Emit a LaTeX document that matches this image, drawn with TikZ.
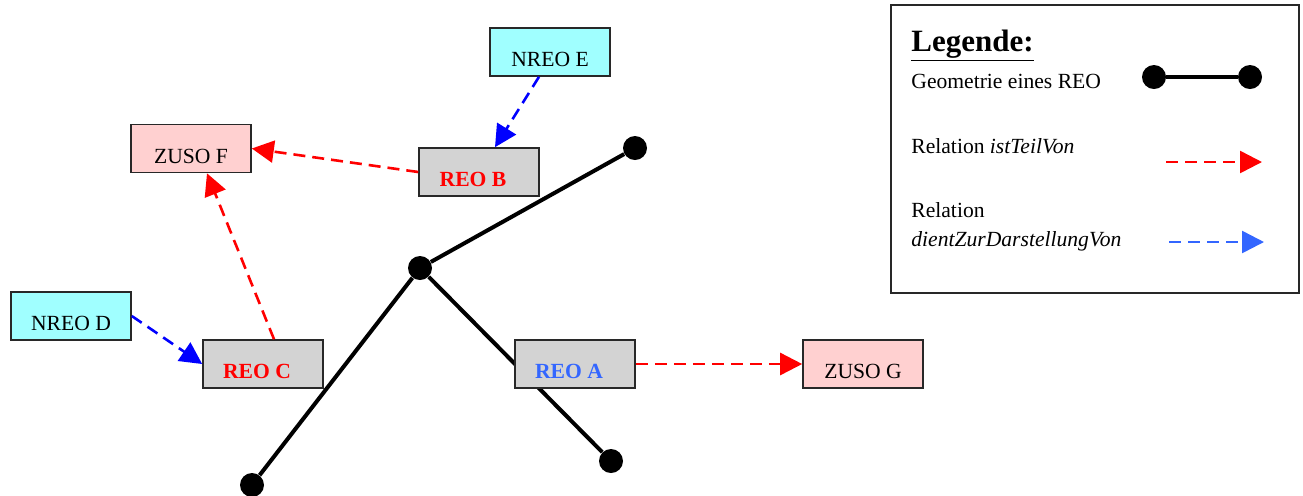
\documentclass[tikz,border=0pt]{standalone}
\usepackage{fontspec}
\setmainfont{Liberation Serif}
\usetikzlibrary{arrows.meta,calc}
\definecolor{cyanfill}{RGB}{160,255,255}
\definecolor{pinkfill}{RGB}{255,208,208}
\definecolor{greyfill}{RGB}{211,211,211}
\definecolor{lblue}{RGB}{51,102,255}
\definecolor{edgecol}{RGB}{40,40,40}
\begin{document}
\begin{tikzpicture}[x=0.5pt,y=-0.5pt,
  box/.style={draw=edgecol, line width=0.8pt, minimum width=60pt, minimum height=24pt,
    inner sep=0pt, text height=14.5pt, text depth=0pt, font=\fontsize{10.8}{13}\selectfont},
  cyanbox/.style={box, fill=cyanfill},
  pinkbox/.style={box, fill=pinkfill},
  reo/.style={box, fill=greyfill, font=\fontsize{10.8}{13}\selectfont\bfseries},
  dot/.style={circle, fill=black, inner sep=0pt, minimum size=12pt},
  geo/.style={draw=black, line width=2pt},
  relarr/.style={line width=1.3pt, dash pattern=on 6pt off 3.5pt,
    -{Triangle[length=11pt,width=11pt]}},
  redarr/.style={relarr, draw=red},
  bluearr/.style={relarr, draw=blue},
  lbluearr/.style={relarr, draw=lblue},
  lt/.style={anchor=base west, inner sep=0pt, font=\fontsize{10.8}{13}\selectfont}
]
\useasboundingbox (0,0) rectangle (1303,495);

% geometry
\node[dot] (J) at (420,268) {};
\node[dot] (P1) at (635,148) {};
\node[dot] (P2) at (252,485) {};
\node[dot] (P3) at (611,461) {};
\draw[geo] (J) -- (P1);
\draw[geo] (J) -- (P2);
\draw[geo] (J) -- (P3);

% boxes
\node[cyanbox] (E) at (550,52) {NREO E};
\node[reo, text=red] (B) at (479,172) {REO B\hspace*{6pt}};
\node[pinkbox] (F) at (191,148.5) {ZUSO F};
\node[cyanbox] (D) at (71,316) {NREO D};
\node[reo, text=red] (C) at (263,364) {REO C\hspace*{6pt}};
\node[reo, text=lblue] (A) at (575,364) {REO A\hspace*{6pt}};
\node[pinkbox] (G) at (863,364) {ZUSO G};

% relations
\draw[redarr] (B.west) -- (F.east);
\draw[redarr] ($(C.north)+(11,0)$) -- ($(F.south)+(16,0)$);
\draw[redarr] (A.east) -- (G.west);
\draw[bluearr] ($(E.south)+(-11,0)$) -- ($(B.north)+(16,0)$);
\draw[bluearr] (D.east) -- (C.west);

% legend
\node[draw=edgecol, line width=1pt, minimum width=204pt, minimum height=144pt,
  inner sep=0pt, anchor=north west] (L) at (890,4) {};
\node[lt, font=\fontsize{15.5}{18}\selectfont\bfseries] (LH) at (911,51) {\underline{Legende:}};
\node[lt] (L1) at (911,88) {Geometrie eines REO};
\node[lt] (L2) at (911,153) {Relation \textit{istTeilVon}};
\node[lt] (L3) at (911,217) {Relation};
\node[lt] (L4) at (911,246) {\textit{dientZurDarstellungVon}};
\node[dot] (Q1) at (1154,77) {};
\node[dot] (Q2) at (1250,77) {};
\draw[geo] (Q1) -- (Q2);
\coordinate (R1) at (1166,162);
\coordinate (R2) at (1262,162);
\draw[redarr] (R1) -- (R2);
\coordinate (S1) at (1169,242);
\coordinate (S2) at (1264,242);
\draw[lbluearr] (S1) -- (S2);
\end{tikzpicture}
\end{document}
